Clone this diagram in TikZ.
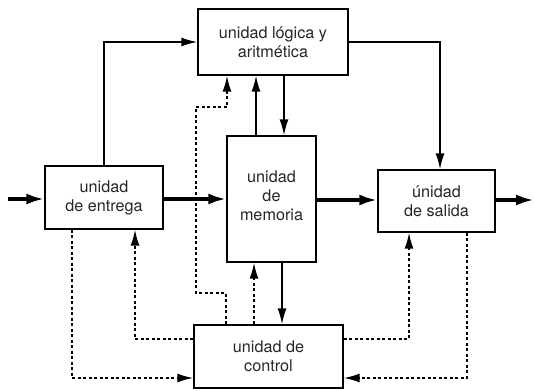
\documentclass[tikz,border=0pt]{standalone}
\usepackage{fontspec}
\setmainfont{TeX Gyre Heros}
\usetikzlibrary{arrows.meta}
\begin{document}
\begin{tikzpicture}[x=1pt,y=-1pt,
  box/.style={draw,line width=1.3pt,inner sep=0pt,align=center,
    font=\fontsize{16.2}{19}\selectfont,text=black!85},
  lbl/.style={inner sep=0pt,align=center,font=\fontsize{16.2}{19}\selectfont,text=black!85},
  thinarr/.style={line width=1.6pt,-{Latex[length=16pt,width=9pt]}},
  thkarr/.style={line width=3.4pt,-{Latex[length=18pt,width=11pt]}},
  dotarr/.style={line width=1.7pt,dash pattern=on 3pt off 2.5pt,-{Latex[length=16pt,width=9pt]}}]
\useasboundingbox (0,0) rectangle (534,390);
\node[box,minimum width=150pt,minimum height=66pt] (alu) at (273,42) {unidad lógica y\\aritmética};
\node[box,minimum width=118pt,minimum height=63pt] (ent) at (104,197.5) {unidad\\de entrega};
\node[box,minimum width=89pt,minimum height=126pt] (mem) at (271.5,199) {};
\node[lbl] (memtxt) at (271.5,195.5) {unidad\\de\\memoria};
\node[box,minimum width=117pt,minimum height=62pt] (sal) at (436.5,201) {únidad\\de salida};
\node[box,minimum width=149pt,minimum height=63pt] (ctl) at (268.5,356.5) {unidad de\\control};
% coordinates
\coordinate (inL) at (8,199);
\coordinate (outR) at (534,200);
\coordinate (y200) at (0,200);
\coordinate (xR) at (440,0);
\coordinate (x256) at (256,0);
\coordinate (x284) at (284,0);
\coordinate (x226) at (226,0);
\coordinate (x227) at (227,0);
\coordinate (x254) at (254,0);
\coordinate (x282) at (282,0);
\coordinate (x72) at (72,0);
\coordinate (x135) at (135,0);
\coordinate (x409) at (409,0);
\coordinate (x467) at (467,0);
\coordinate (y339) at (0,339);
\coordinate (y378) at (0,378);
\coordinate (d1) at (196,293);
\coordinate (d2) at (196,107);
% thick data flow
\draw[thkarr] (inL) -- (inL -| ent.west);
\draw[thkarr] (ent.east |- inL) -- (mem.west |- inL);
\draw[thkarr] (mem.east |- y200) -- (sal.west |- y200);
\draw[thkarr] (sal.east |- outR) -- (outR);
% solid connections
\draw[thinarr] (ent.north) |- (alu.west);
\draw[thinarr] (alu.east) -| (xR |- sal.north);
\draw[thinarr] (x256 |- mem.north) -- (x256 |- alu.south);
\draw[thinarr] (x284 |- alu.south) -- (x284 |- mem.north);
\draw[thinarr] (x282 |- mem.south) -- (x282 |- ctl.north);
% dotted control lines
\draw[dotarr] (x226 |- ctl.north) |- (d1) -- (d2) -| (x227 |- alu.south);
\draw[dotarr] (x254 |- ctl.north) -- (x254 |- mem.south);
\draw[dotarr] (x72 |- ent.south) |- (ctl.west |- y378);
\draw[dotarr] (ctl.west |- y339) -| (x135 |- ent.south);
\draw[dotarr] (ctl.east |- y339) -| (x409 |- sal.south);
\draw[dotarr] (x467 |- sal.south) |- (ctl.east |- y378);
\end{tikzpicture}
\end{document}
